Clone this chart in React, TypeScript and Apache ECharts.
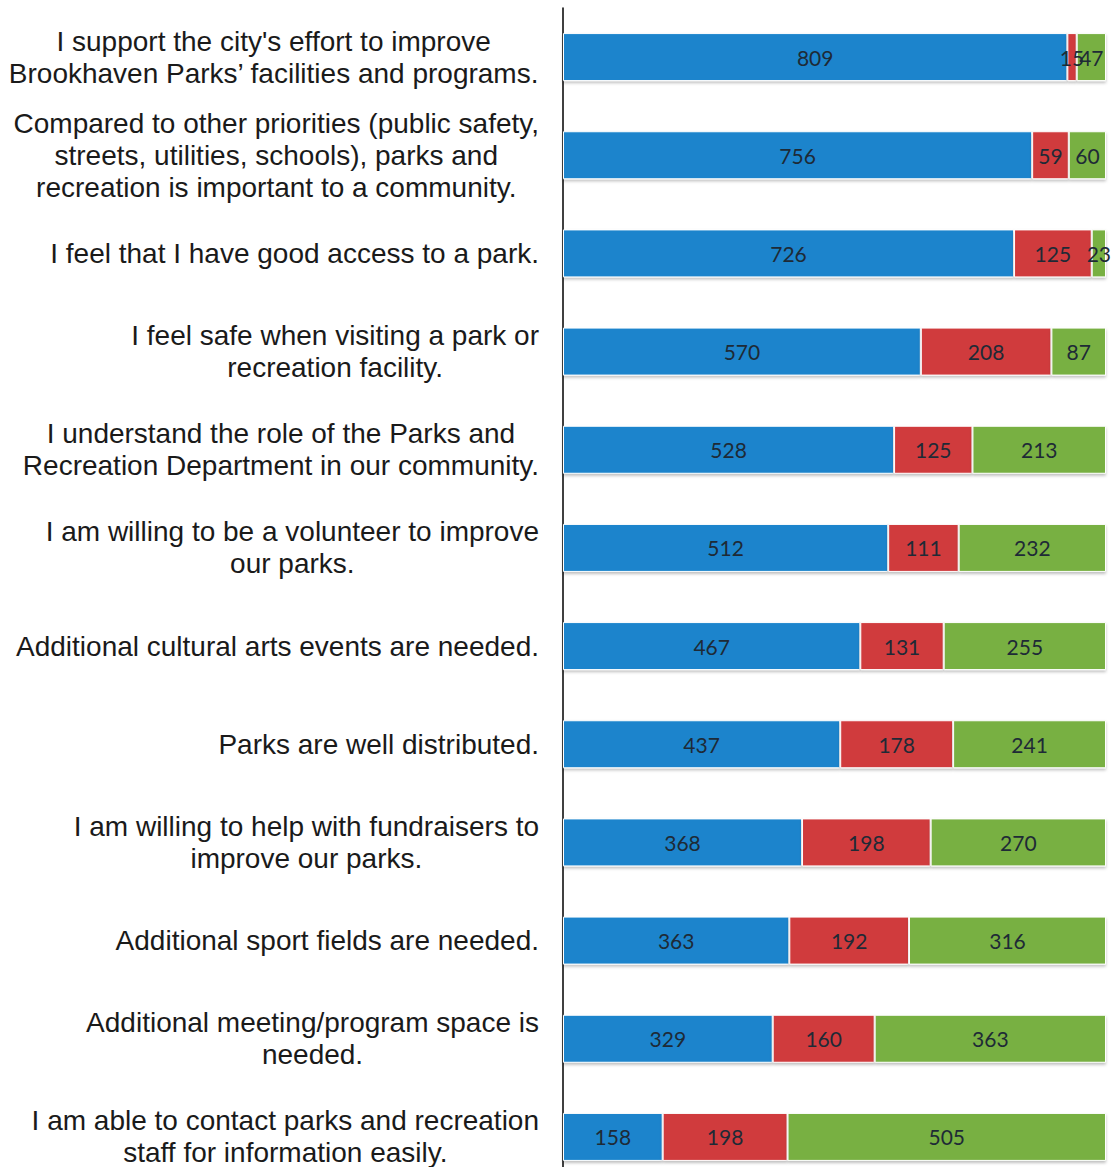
import React, { useEffect, useRef } from "react";
import * as echarts from "echarts";

const categories: string[] = [
  "I support the city's effort to improve\nBrookhaven Parks’ facilities and programs.",
  "Compared to other priorities (public safety,\nstreets, utilities, schools), parks and\nrecreation is important to a community.",
  "I feel that I have good access to a park.",
  "I feel safe when visiting a park or\nrecreation facility.",
  "I understand the role of the Parks and\nRecreation Department in our community.",
  "I am willing to be a volunteer to improve\nour parks.",
  "Additional cultural arts events are needed.",
  "Parks are well distributed.",
  "I am willing to help with fundraisers to\nimprove our parks.",
  "Additional sport fields are needed.",
  "Additional meeting/program space is\nneeded.",
  "I am able to contact parks and recreation\nstaff for information easily.",
];

const agree: number[] = [809, 756, 726, 570, 528, 512, 467, 437, 368, 363, 329, 158];
const disagree: number[] = [15, 59, 125, 208, 125, 111, 131, 178, 198, 192, 160, 198];
const noOpinion: number[] = [47, 60, 23, 87, 213, 232, 255, 241, 270, 316, 363, 505];

const seriesNames = ["Agree", "Disagree", "No opinion"];
const seriesColors = ["#1a84cc", "#d03a3c", "#78b043"];

export default function App() {
  const ref = useRef<HTMLDivElement>(null);
  useEffect(() => {
    if (!ref.current) return;
    const chart = echarts.init(ref.current, null, { renderer: "svg" });
    const raw = [agree, disagree, noOpinion];
    const totals = agree.map((v, i) => v + disagree[i] + noOpinion[i]);
    const series = raw.map((arr, si) => ({
      name: seriesNames[si],
      type: "bar",
      stack: "total",
      barWidth: 48,
      data: arr.map((v, i) => ({ value: (v / totals[i]) * 100, raw: v })),
      itemStyle: {
        color: seriesColors[si],
        borderColor: "#ffffff",
        borderWidth: 1,
        shadowBlur: 3,
        shadowOffsetY: 2,
        shadowColor: "rgba(0,0,0,0.25)",
      },
      label: {
        show: true,
        position: "inside",
        color: "#1e2a36",
        fontFamily: "Lato",
        fontSize: 21,
        formatter: (p: any) => String(p.data.raw),
      },
    }));
    chart.setOption({
      animation: false,
      backgroundColor: "#ffffff",
      grid: { top: 8, left: 563, right: 6, bottom: -19, containLabel: false, outerBoundsMode: "none" },
      xAxis: {
        type: "value",
        min: 0,
        max: 100,
        show: false,
        splitLine: { show: false },
      },
      yAxis: {
        type: "category",
        inverse: true,
        data: categories,
        axisLine: { show: true, lineStyle: { color: "#000", width: 1.5 } },
        axisTick: { show: false },
        axisLabel: {
          margin: 24,
          align: "right",
          formatter: (v: string) =>
            v
              .split("\n")
              .map((l) => `{c|${l}}`)
              .join("\n"),
          rich: {
            c: {
              align: "center",
              fontFamily: "Liberation Sans",
              fontSize: 28,
              lineHeight: 32,
              color: "#1a1a1a",
            },
          },
        },
      },
      series,
    } as any);
    return () => chart.dispose();
  }, []);
  return (
    <div
      ref={ref}
      style={{ position: "absolute", left: 0, top: 0, width: 1112, height: 1167 }}
    />
  );
}
